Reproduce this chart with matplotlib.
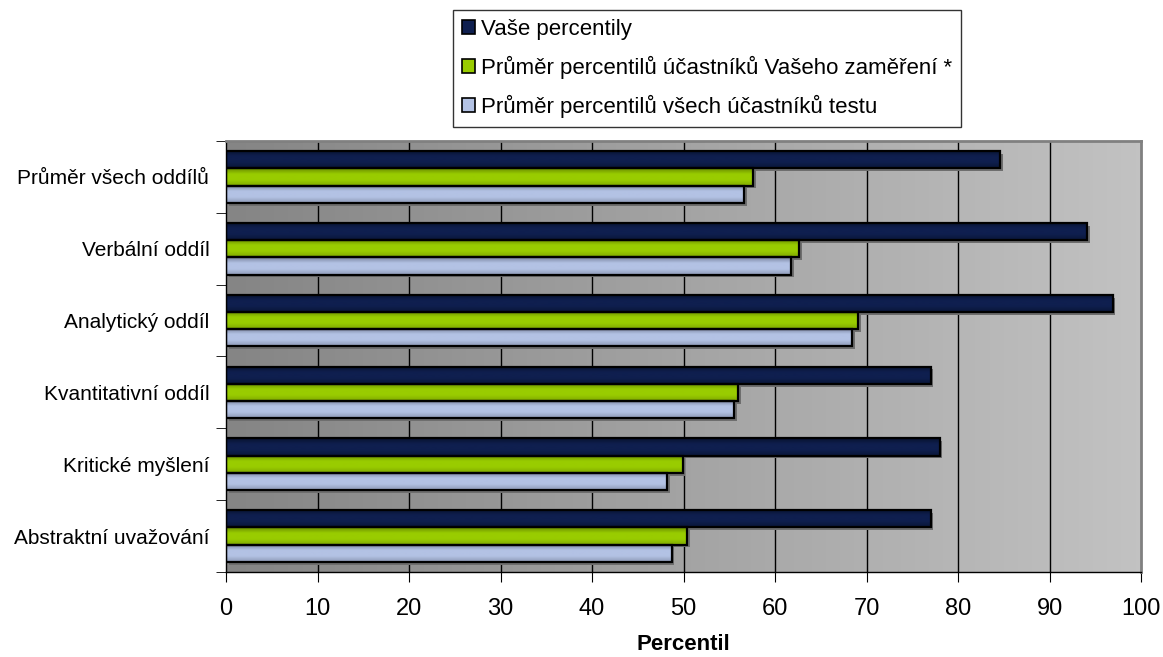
import matplotlib
matplotlib.use('Agg')
import matplotlib.pyplot as plt
import matplotlib.transforms as mtransforms
from matplotlib.colors import LinearSegmentedColormap
from matplotlib.patches import Patch
import numpy as np

plt.rcParams['font.family'] = ['Liberation Sans', 'DejaVu Sans']

categories = ['Průměr všech oddílů', 'Verbální oddíl', 'Analytický oddíl',
              'Kvantitativní oddíl', 'Kritické myšlení', 'Abstraktní uvažování']
series_names = ['Vaše percentily',
                'Průměr percentilů účastníků Vašeho zaměření *',
                'Průměr percentilů všech účastníků testu']
vase = [84.6, 94.1, 96.9, 77.0, 78.0, 77.0]
zamereni = [57.6, 62.6, 69.1, 56.0, 49.9, 50.4]
vsichni = [56.6, 61.8, 68.4, 55.5, 48.2, 48.7]

# (top, middle, bottom) shades for the pseudo-3D bars
shades = [('#08122e', '#0f1f4f', '#0a1638'),
          ('#6a8c00', '#99cc00', '#7fa800'),
          ('#78839e', '#b3c2e4', '#8e99b6')]
legend_colors = ['#0f1f4f', '#99cc00', '#b3c2e4']

fig = plt.figure(figsize=(11.63, 6.57), dpi=100)
ax = fig.add_axes([226 / 1163, 1 - 572 / 657, 915 / 1163, 431 / 657])

n = len(categories)
ypos = np.arange(n)[::-1]
h = 0.24

# background gradient
bg = LinearSegmentedColormap.from_list('bg', ['#858585', '#c2c2c2'])
ax.imshow(np.linspace(0, 1, 256).reshape(1, -1), cmap=bg, aspect='auto',
          extent=[0, 100, -0.5, n - 0.5], zorder=0, interpolation='bilinear')

for x in range(10, 100, 10):
    ax.axvline(x, color='black', lw=1, zorder=1)

shadow_tr = ax.transData + mtransforms.ScaledTranslation(2 / 72, -2 / 72, fig.dpi_scale_trans)
grad = np.linspace(0, 1, 64).reshape(-1, 1)
for k, vals in enumerate([vase, zamereni, vsichni]):
    cm = LinearSegmentedColormap.from_list('s%d' % k,
                                           [shades[k][0], shades[k][1], shades[k][1], shades[k][2]])
    off = (1 - k) * h
    for y, v in zip(ypos, vals):
        yc = y + off
        ax.barh(yc, v, height=h, color='#6e6e6e', zorder=1.5, transform=shadow_tr)
        ax.imshow(grad, cmap=cm, aspect='auto', extent=[0, v, yc - h / 2, yc + h / 2],
                  zorder=2, interpolation='bilinear')
        ax.barh(yc, v, height=h, facecolor='none', edgecolor='black', lw=1.6, zorder=3)

ax.set_xlim(0, 100)
ax.set_ylim(-0.5, n - 0.5)
ax.set_xticks(range(0, 101, 10))
ax.tick_params(axis='x', length=7, labelsize=17, pad=12)
ax.set_yticks(ypos)
ax.set_yticklabels(categories)
ax.tick_params(axis='y', which='major', length=0, labelsize=15, pad=12)
ax.set_yticks(np.arange(-0.5, n, 1), minor=True)
ax.tick_params(axis='y', which='minor', length=7)
ax.set_xlabel('Percentil', fontsize=16, fontweight='bold', labelpad=10)

for s in ['top', 'right']:
    ax.spines[s].set_color('#808080')
    ax.spines[s].set_linewidth(2)
for s in ['left', 'bottom']:
    ax.spines[s].set_color('black')
    ax.spines[s].set_linewidth(1)

handles = [Patch(facecolor=c, edgecolor='black', lw=1.2) for c in legend_colors]
leg = fig.legend(handles, series_names, loc='upper left',
                 bbox_to_anchor=(453 / 1163, 1 - 10 / 657), fontsize=16,
                 frameon=True, fancybox=False, handlelength=0.6, handleheight=0.6,
                 handletextpad=0.25, labelspacing=0.72, borderpad=0.4, borderaxespad=0)
leg.get_frame().set_edgecolor('black')
leg.get_frame().set_linewidth(1)

fig.savefig('out.png', dpi=100)
